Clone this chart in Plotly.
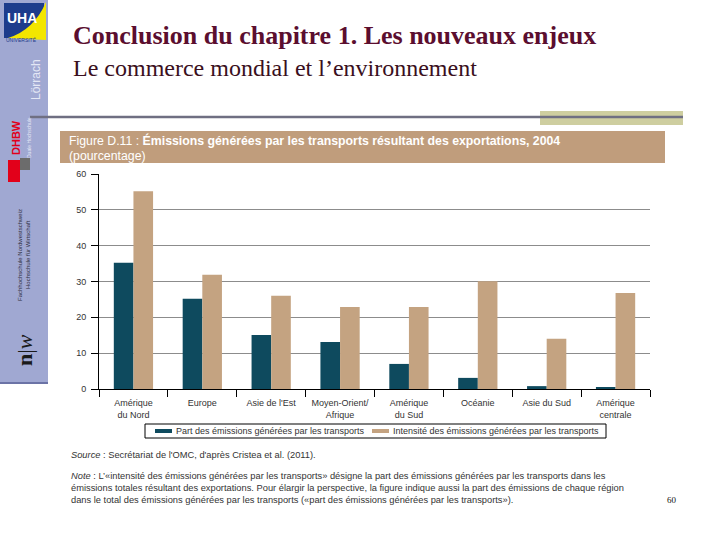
import plotly.graph_objects as go

# ---------------- data ----------------
categories = ["Amérique<br>du Nord", "Europe", "Asie de l'Est", "Moyen-Orient/<br>Afrique",
              "Amérique<br>du Sud", "Océanie", "Asie du Sud", "Amérique<br>centrale"]
part_emissions = [35.2, 25.2, 15.1, 13.1, 7.0, 3.1, 0.8, 0.5]
intensite_emissions = [55.2, 31.9, 26.0, 22.9, 22.9, 30.1, 14.0, 26.8]
series_names = ["Part des émissions générées par les transports",
                "Intensité des émissions générées par les transports"]
y_ticks = [0, 10, 20, 30, 40, 50, 60]

# ---------------- layout helpers (pixel -> paper) ----------------
W, H = 720, 540
X0, X1, Y0, Y1 = 99, 650, 174, 389  # plot area in pixels


def px(x):
    return (x - X0) / (X1 - X0)


def py(y):
    return (Y1 - y) / (Y1 - Y0)


DARK = "#0E4A5E"
TAN = "#C4A381"
TXT = "#333333"
SANS = "Liberation Sans, Arial, sans-serif"
SERIF = "Liberation Serif, Times New Roman, serif"

fig = go.Figure()
fig.add_trace(go.Bar(x=categories, y=part_emissions, name=series_names[0],
                     marker=dict(color=DARK, line=dict(width=0))))
fig.add_trace(go.Bar(x=categories, y=intensite_emissions, name=series_names[1],
                     marker=dict(color=TAN, line=dict(width=0))))

shapes = []
annotations = []


def rect(x0, y0, x1, y1, color, layer="below", line_color=None, lw=0, fill=True):
    shapes.append(dict(type="rect", xref="paper", yref="paper",
                       x0=px(x0), x1=px(x1), y0=py(y1), y1=py(y0),
                       fillcolor=color if fill else "rgba(0,0,0,0)",
                       line=dict(width=lw, color=line_color or color),
                       layer=layer))


def text(x, y, s, size, color=TXT, family=SANS, xanchor="left", yanchor="middle", angle=0):
    annotations.append(dict(x=px(x), y=py(y), xref="paper", yref="paper", text=s,
                            showarrow=False, xanchor=xanchor, yanchor=yanchor,
                            textangle=angle, align="left", borderpad=0,
                            font=dict(size=size, color=color, family=family)))


# ---- left sidebar ----
rect(0, 0, 48, 382, "#A0A8D2")
rect(0, 382, 48, 384, "#6B73A6")
rect(4, 3, 44, 38, "#1D3C8C", layer="above")
shapes.append(dict(type="path", xref="paper", yref="paper", layer="above",
                   path="M {} {} Q {} {} {} {} L {} {} Z".format(px(8), py(38), px(34), py(30),
                                                                 px(46), py(2), px(46), py(40)),
                   fillcolor="#F3E600", line=dict(width=0)))
text(6, 18, "<b>UHA</b>", 14, color="white")
text(5, 40, "UNIVERSITÉ", 5, color="#1D3C8C")
text(36, 80, "Lörrach", 12, color="#E4E7F5", xanchor="center", angle=-90)
text(16, 138, "<b>DHBW</b>", 11, color="#E2001A", xanchor="center", angle=-90)
text(29, 138, "Duale Hochschule", 5, color="#E4E7F5", xanchor="center", angle=-90)
rect(8, 160, 20, 182, "#E2001A", layer="above")
rect(20, 158, 30, 170, "#6C6C6C", layer="above")
text(20, 255, "Fachhochschule Nordwestschweiz", 6, color="#2F2F3F", xanchor="center", angle=-90)
text(28, 255, "Hochschule für Wirtschaft", 6, color="#2F2F3F", xanchor="center", angle=-90)
text(24, 350, "<b>n</b>|<i>w</i>", 22, color="#1A1A1A", family=SERIF, xanchor="center", angle=-90)

# ---- slide title ----
text(72, 36, "<b>Conclusion du chapitre 1. Les nouveaux enjeux</b>", 26, color="#5B0E2F", family=SERIF)
text(72, 68, "Le commerce mondial et l’environnement", 24, color="#3A0F20", family=SERIF)

# separator line + olive block
rect(540, 111, 683, 125, "#CECEA0")
shapes.append(dict(type="line", xref="paper", yref="paper", x0=px(30), x1=px(683),
                   y0=py(117), y1=py(117), line=dict(color="#6F6F82", width=2.5)))

# ---- figure header ----
rect(60, 131, 665, 163, "#C09D7C")
text(68, 141, "Figure D.11 : <b>Émissions générées par les transports résultant des exportations, 2004</b>",
     12.3, color="white")
text(68, 156, "(pourcentage)", 12.3, color="white")

# ---- legend (drawn box) ----
rect(145, 424, 606, 438, "white", lw=1, line_color="black")
rect(155, 429, 172, 433, DARK, layer="above")
text(175, 431, series_names[0], 9)
rect(372, 429, 389, 433, TAN, layer="above")
text(392, 431, series_names[1], 9)

# ---- source / note ----
text(70, 455, "<i>Source</i> : Secrétariat de l'OMC, d'après Cristea et al. (2011).", 9.3)
text(70, 476, "<i>Note</i> : L’«intensité des émissions générées par les transports» désigne la part des émissions générées par les transports dans les", 9.3)
text(70, 488, "émissions totales résultant des exportations. Pour élargir la perspective, la figure indique aussi la part des émissions de chaque région", 9.3)
text(70, 500, "dans le total des émissions générées par les transports («part des émissions générées par les transports»).", 9.3)
text(672, 500, "60", 9, color="#111111", family=SERIF, xanchor="center")

fig.update_layout(
    width=W, height=H,
    margin=dict(l=X0, r=W - X1, t=Y0, b=H - Y1, pad=0),
    paper_bgcolor="white", plot_bgcolor="white",
    barmode="group", bargap=0.43, bargroupgap=0,
    font=dict(family=SANS, size=9, color=TXT),
    showlegend=False,
    shapes=shapes, annotations=annotations,
)
fig.update_xaxes(type="category", showline=True, linecolor="black", linewidth=1,
                 ticks="outside", tickson="boundaries", ticklen=7, tickcolor="black",
                 ticklabelstandoff=5,
                 showgrid=False, tickfont=dict(size=9, color=TXT))
fig.update_yaxes(range=[0, 60], tickvals=y_ticks, showline=True, linecolor="black", linewidth=1,
                 ticks="outside", ticklen=7, tickcolor="black", ticklabelstandoff=3,
                 showgrid=True, gridcolor="#8C8C8C", gridwidth=1, zeroline=False,
                 tickfont=dict(size=9, color=TXT))

fig.write_html("out.html", config={"displayModeBar": False},
               post_script="document.body.style.margin='0';document.body.style.overflow='hidden';")
